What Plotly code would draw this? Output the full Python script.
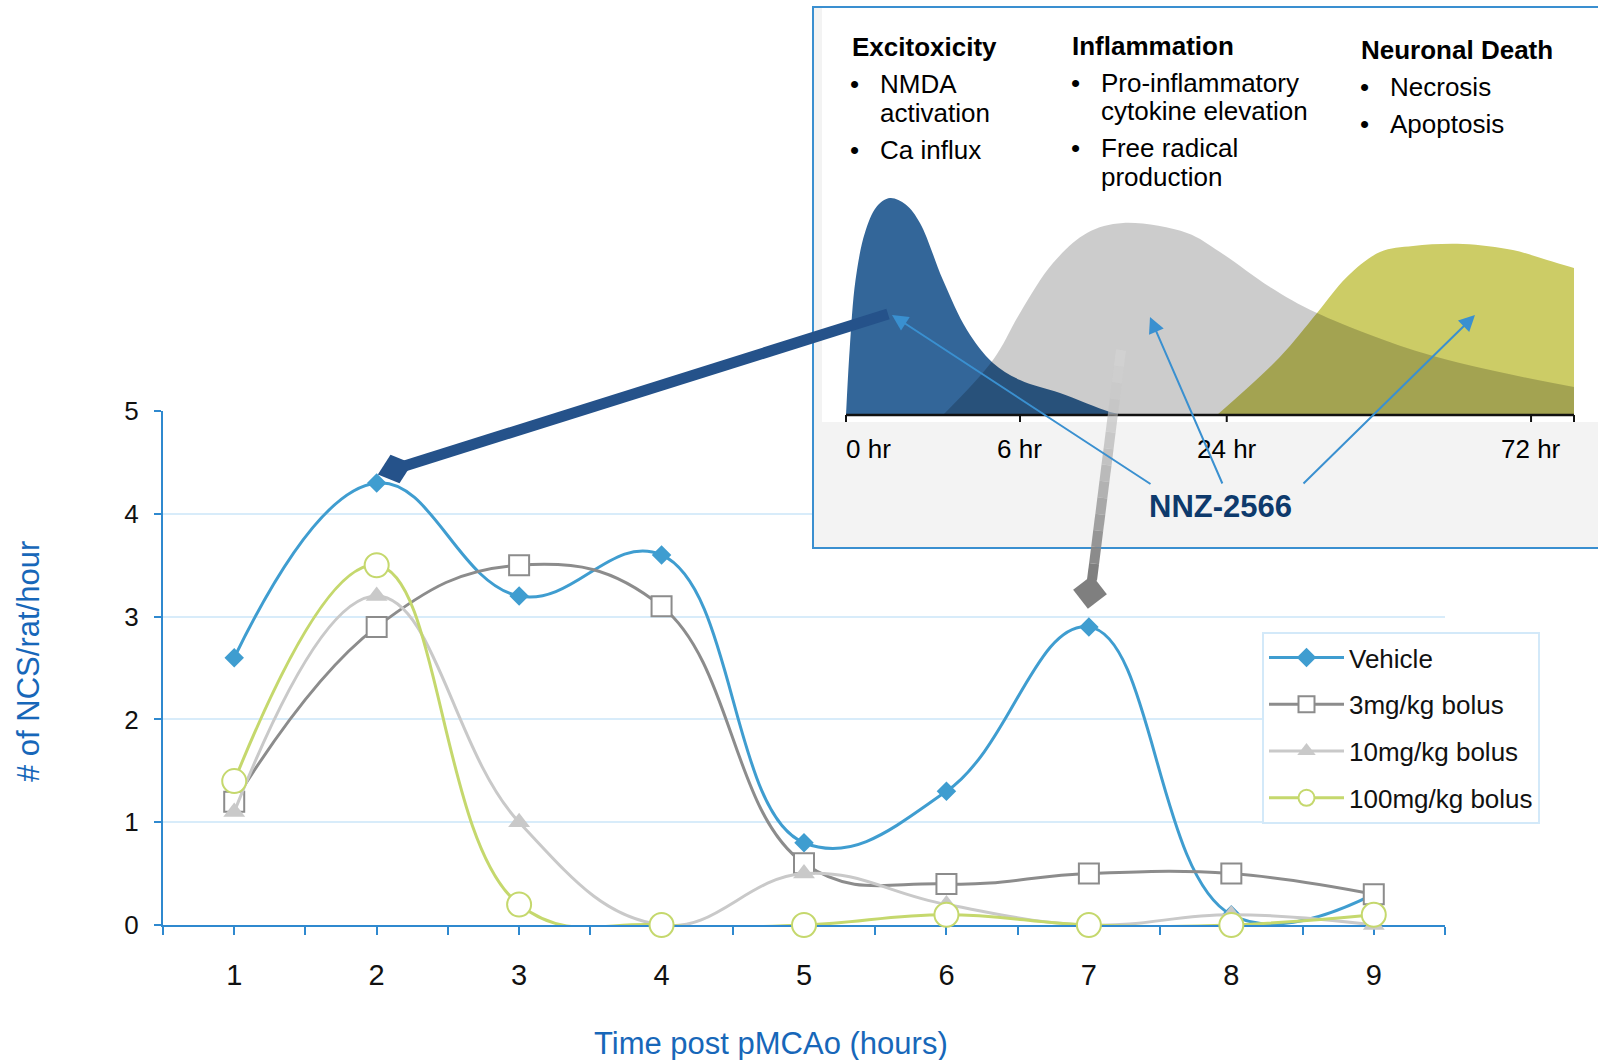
import math
import plotly.graph_objects as go

W, H = 1598, 1060

# ---------------- main chart data ----------------
HOURS = [1, 2, 3, 4, 5, 6, 7, 8, 9]
SERIES_NAMES = ["Vehicle", "3mg/kg bolus", "10mg/kg bolus", "100mg/kg bolus"]
VEHICLE = [2.6, 4.3, 3.2, 3.6, 0.8, 1.3, 2.9, 0.1, 0.3]
MG3 = [1.2, 2.9, 3.5, 3.1, 0.6, 0.4, 0.5, 0.5, 0.3]
MG10 = [1.1, 3.2, 1.0, 0.0, 0.5, 0.2, 0.0, 0.1, 0.0]
MG100 = [1.4, 3.5, 0.2, 0.0, 0.0, 0.1, 0.0, 0.0, 0.1]
Y_TICKS = [0, 1, 2, 3, 4, 5]
X_TITLE = "Time post pMCAo (hours)"
Y_TITLE = "# of NCS/rat/hour"

# ---------------- inset schematic (timeline units 0-100, intensity 0-1) ----------------
EXCITO_T = [0, 0.5, 1.3, 2.6, 4.2, 6.04, 8.2, 10.16, 13.32, 16.62, 20.19, 23.9, 29.4, 36.26, 38.5]
EXCITO_V = [0, 0.30, 0.62, 0.84, 0.96, 1.0, 0.97, 0.885, 0.622, 0.392, 0.24, 0.161, 0.101, 0.014, 0]
INFLAM_T = [13.32, 20.19, 23.9, 28.43, 33.1, 38.05, 46.84, 51.37, 58.24, 64.7, 80.2, 100]
INFLAM_V = [0, 0.253, 0.47, 0.70, 0.839, 0.885, 0.839, 0.751, 0.59, 0.47, 0.276, 0.129]
DEATH_T = [50.96, 59.6, 64.7, 68.8, 73.35, 77.9, 84.75, 91.6, 96.3, 100]
DEATH_V = [0, 0.267, 0.47, 0.636, 0.751, 0.779, 0.788, 0.76, 0.714, 0.677]
INSET_TICK_POS = [0, 23.9, 52.3, 94.1, 100]
INSET_TICK_TEXT = ["0 hr", "6 hr", "24 hr", "72 hr", ""]
HEADERS = ["Excitoxicity", "Inflammation", "Neuronal Death"]
COL_LINES = [
    [("NMDA", True), ("activation", False), ("Ca influx", True)],
    [("Pro-inflammatory", True), ("cytokine elevation", False), ("Free radical", True), ("production", False)],
    [("Necrosis", True), ("Apoptosis", True)],
]
DRUG = "NNZ-2566"

# ---------------- styles ----------------
FONT = "Liberation Sans, Arial, sans-serif"
AXIS_BLUE = "#2F89CF"
GRID_BLUE = "#D8ECFA"
TITLE_BLUE = "#1767B9"
COLORS = ["#3F9DD0", "#8C8C8C", "#C9C9C9", "#C5D86D"]
SYMBOLS = ["diamond", "square", "triangle-up", "circle"]
MSIZES = [15, 20, 19, 24]
MFILL = ["#3F9DD0", "white", "#C9C9C9", "white"]
MLINEW = [0, 2, 0, 2]


def PX(x):
    return x / W


def PY(y):
    return 1 - y / H


fig = go.Figure()

for name, vals, col, sym, ms, mf, mlw in zip(
        SERIES_NAMES, [VEHICLE, MG3, MG10, MG100], COLORS, SYMBOLS, MSIZES, MFILL, MLINEW):
    fig.add_trace(go.Scatter(
        x=HOURS, y=vals, name=name, legendgroup=name, mode="lines+markers",
        line=dict(color=col, width=3, shape="spline", smoothing=1.2),
        marker=dict(symbol=sym, size=ms, color=mf, line=dict(color=col, width=mlw)),
        cliponaxis=False, xaxis="x", yaxis="y", hoverinfo="x+y+name"))

# inset areas (yellow, blue opaque; gray as darkening overlay)
fig.add_trace(go.Scatter(x=DEATH_T, y=DEATH_V, mode="lines", fill="tozeroy",
                         fillcolor="#CCCC66", line=dict(width=0, shape="spline", color="#CCCC66"),
                         showlegend=False, hoverinfo="skip", xaxis="x2", yaxis="y2"))
fig.add_trace(go.Scatter(x=EXCITO_T, y=EXCITO_V, mode="lines", fill="tozeroy",
                         fillcolor="#336699", line=dict(width=0, shape="spline", color="#336699"),
                         showlegend=False, hoverinfo="skip", xaxis="x2", yaxis="y2"))
fig.add_trace(go.Scatter(x=INFLAM_T, y=INFLAM_V, mode="lines", fill="tozeroy",
                         fillcolor="rgba(0,0,0,0.2)", line=dict(width=0, shape="spline", color="rgba(0,0,0,0)"),
                         showlegend=False, hoverinfo="skip", xaxis="x2", yaxis="y2"))

# inset geometry (pixels)
IX0, IUNIT, IBASE, IVUNIT = 846, 7.28, 415, 217
BOX_L, BOX_T, BOX_B = 813, 7, 548


def UX(px):
    return (px - IX0) / IUNIT


def UY(py):
    return (IBASE - py) / IVUNIT


hidden = dict(showgrid=False, zeroline=False, showticklabels=False, showline=False, ticks="", fixedrange=True)

fig.update_layout(
    width=W, height=H, margin=dict(l=0, r=0, t=0, b=0),
    paper_bgcolor="white", plot_bgcolor="white",
    font=dict(family=FONT, color="#111111"),
    xaxis=dict(domain=[PX(163), PX(1445)], range=[0.5, 9.5], tickmode="linear", tick0=1, dtick=1,
               ticks="outside", ticklen=8, tickwidth=2, tickcolor=AXIS_BLUE,
               showline=True, linecolor=AXIS_BLUE, linewidth=2, showgrid=False, zeroline=False,
               tickfont=dict(size=29, color="#111111"), ticklabelstandoff=15,
               minor=dict(dtick=0.5, ticks="outside", ticklen=8, tickwidth=2, tickcolor=AXIS_BLUE, showgrid=False),
               layer="below traces", automargin=False, anchor="y"),
    yaxis=dict(domain=[PY(925), PY(411)], range=[0, 5], tickmode="array", tickvals=Y_TICKS,
               ticks="outside", ticklen=7, tickwidth=2, tickcolor=AXIS_BLUE,
               showline=True, linecolor=AXIS_BLUE, linewidth=2, showgrid=True, gridcolor=GRID_BLUE,
               gridwidth=2, zeroline=False, tickfont=dict(size=26, color="#111111"),
               ticklabelstandoff=10, layer="below traces", automargin=False, anchor="x"),
    xaxis2=dict(domain=[PX(BOX_L), 1.0], range=[UX(BOX_L), UX(W)], anchor="y2", **hidden),
    yaxis2=dict(domain=[PY(BOX_B), PY(BOX_T)], range=[UY(BOX_B), UY(BOX_T)], anchor="x2", **hidden),
    legend=dict(x=PX(1262), y=PY(632), xanchor="left", yanchor="top", bgcolor="white",
                bordercolor="#D3E9F9", borderwidth=2, font=dict(size=26, color="#111111"),
                tracegroupgap=10, traceorder="grouped", itemwidth=75),
)

shapes = []
# inset box: light gray frame with white graphic panel
shapes.append(dict(type="rect", xref="x2", yref="y2", x0=UX(BOX_L - 10), x1=UX(W + 10),
                   y0=UY(BOX_B + 10), y1=UY(BOX_T - 10), fillcolor="#F3F3F3", line=dict(width=0), layer="below"))
shapes.append(dict(type="rect", xref="x2", yref="y2", x0=UX(822), x1=UX(W + 10),
                   y0=UY(422), y1=UY(BOX_T - 10), fillcolor="white", line=dict(width=0), layer="below"))
# baseline and ticks
shapes.append(dict(type="line", xref="x2", yref="y2", x0=0, x1=100, y0=0, y1=0,
                   line=dict(color="#111111", width=2.5), layer="above"))
for p in INSET_TICK_POS:
    shapes.append(dict(type="line", xref="x2", yref="y2", x0=p, x1=p, y0=0, y1=UY(IBASE + 7),
                       line=dict(color="#111111", width=2), layer="above"))
# box border
shapes.append(dict(type="rect", xref="paper", yref="paper", x0=PX(BOX_L), x1=1.01, y0=PY(BOX_B), y1=PY(BOX_T),
                   line=dict(color="#3A8FD0", width=2), fillcolor="rgba(0,0,0,0)", layer="above"))


def diamond_path(cx, cy, ux, uy, ra, rp):
    nx, ny = -uy, ux
    pts = [(cx + ux * ra, cy + uy * ra), (cx + nx * rp, cy + ny * rp),
           (cx - ux * ra, cy - uy * ra), (cx - nx * rp, cy - ny * rp)]
    return "M" + " L".join(f"{PX(x):.5f},{PY(y):.5f}" for x, y in pts) + " Z"


# big dark-blue arrow
bx0, by0, bx1, by1 = 888, 314, 395, 469
L = math.hypot(bx1 - bx0, by1 - by0)
ux, uy = (bx1 - bx0) / L, (by1 - by0) / L
shapes.append(dict(type="line", xref="paper", yref="paper", x0=PX(bx0), y0=PY(by0), x1=PX(bx1), y1=PY(by1),
                   line=dict(color="#25528A", width=11), layer="above"))
shapes.append(dict(type="path", xref="paper", yref="paper", path=diamond_path(bx1, by1, ux, uy, 18, 15),
                   fillcolor="#25528A", line=dict(width=0), layer="above"))

# gray gradient arrow
gx0, gy0, gx1, gy1 = 1121, 350, 1092, 580
N = 14
for i in range(N):
    t0, t1 = i / N, (i + 1) / N
    g = int(222 - (222 - 128) * t1)
    a = 0.45 + 0.55 * t1
    shapes.append(dict(type="line", xref="paper", yref="paper",
                       x0=PX(gx0 + (gx1 - gx0) * t0), y0=PY(gy0 + (gy1 - gy0) * t0),
                       x1=PX(gx0 + (gx1 - gx0) * t1), y1=PY(gy0 + (gy1 - gy0) * t1),
                       line=dict(color=f"rgba({g},{g},{g},{a:.2f})", width=10), layer="above"))
L = math.hypot(gx1 - gx0, gy1 - gy0)
ux, uy = (gx1 - gx0) / L, (gy1 - gy0) / L
shapes.append(dict(type="path", xref="paper", yref="paper", path=diamond_path(1090, 592, ux, uy, 17, 17),
                   fillcolor="#7F7F7F", line=dict(width=0), layer="above"))

fig.update_layout(shapes=shapes)


# ---------------- annotations ----------------
def ann(text, x, y, size, color="#000000", xanchor="left", yanchor="middle", **kw):
    fig.add_annotation(text=text, x=PX(x), y=PY(y), xref="paper", yref="paper", showarrow=False,
                       xanchor=xanchor, yanchor=yanchor, font=dict(size=size, color=color, family=FONT), **kw)


# axis titles
ann(X_TITLE, 771, 1043, 31, TITLE_BLUE, xanchor="center")
ann(Y_TITLE, 28, 662, 31, TITLE_BLUE, xanchor="center", textangle=-90)

# inset columns
col_pos = [  # header x, header y, bullet x, text x, line ys
    (850, 47, 854, 878, [84, 113, 150]),
    (1070, 46, 1075, 1099, [83, 111, 148, 177]),
    (1359, 50, 1364, 1388, [87, 124]),
]
for head, lines, (hx, hy, bx, tx, ys) in zip(HEADERS, COL_LINES, col_pos):
    ann(f"<b>{head}</b>", hx, hy, 26)
    for (txt, bullet), yy in zip(lines, ys):
        if bullet:
            ann("•", bx, yy, 26, xanchor="center")
        ann(txt, tx, yy, 26)

# inset tick labels
for p, t in zip(INSET_TICK_POS, INSET_TICK_TEXT):
    if not t:
        continue
    fig.add_annotation(text=t, x=p, y=PY(449), xref="x2", yref="paper", showarrow=False,
                       xanchor="left" if p == 0 else "center", xshift=-2 if p == 0 else 0,
                       yanchor="middle", font=dict(size=26, color="#000000", family=FONT))

# drug label
ann(f"<b>{DRUG}</b>", 1220, 506, 31, "#0E3A6C", xanchor="center")

# thin arrows from drug label to each phase
for (hx, hy), (tx, ty) in zip([(892, 315), (1150, 317), (1475, 315)],
                              [(1152, 485), (1223, 485), (1302, 485)]):
    fig.add_annotation(text="", x=PX(hx), y=PY(hy), xref="paper", yref="paper", showarrow=True,
                       ax=tx - hx, ay=ty - hy, axref="pixel", ayref="pixel",
                       arrowhead=2, arrowsize=1.6, arrowwidth=2, arrowcolor="#3A90D0", standoff=0)

fig.write_html("out.html")
